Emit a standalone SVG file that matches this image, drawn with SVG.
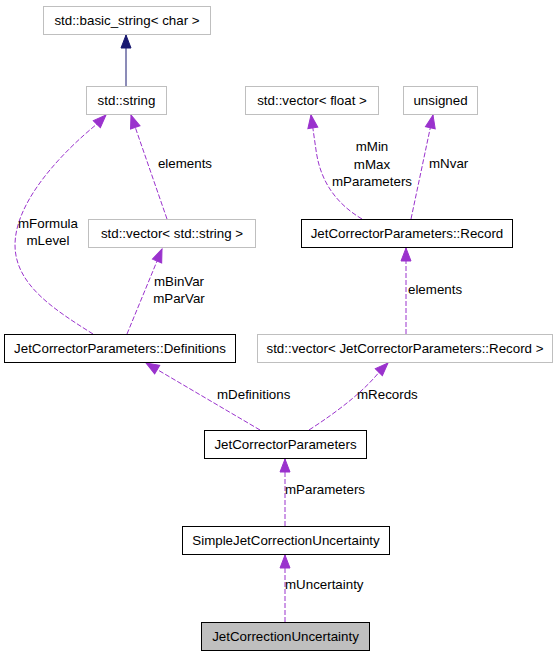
<svg xmlns="http://www.w3.org/2000/svg" width="560" height="656" viewBox="0 0 560 656">
<style>
text{font-family:"Liberation Sans",Arial,Helvetica,sans-serif;font-size:13.33px;fill:#000}
.n rect{fill:#fff;stroke:#000;stroke-width:1}
.n.ext rect{stroke:#bfbfbf}
.n.cur rect{fill:#bfbfbf}
.n text{text-anchor:middle}
.e{fill:none;stroke:#9a32cd;stroke-width:1;stroke-dasharray:5,2}
.inh{fill:none;stroke:#191970;stroke-width:1}
.lm{text-anchor:middle}
</style>
<defs>
<marker id="ap" markerUnits="userSpaceOnUse" markerWidth="16" markerHeight="14" refX="13" refY="5" orient="auto" overflow="visible">
<polygon points="0,0 13,5 0,10" fill="#9a32cd" stroke="#9a32cd" stroke-width="1"/>
</marker>
<marker id="an" markerUnits="userSpaceOnUse" markerWidth="16" markerHeight="14" refX="13" refY="5" orient="auto" overflow="visible">
<polygon points="0,0 13,5 0,10" fill="#191970" stroke="#191970" stroke-width="1"/>
</marker>
</defs>
<g id="connectors">
<path class="inh" d="M126,86 L126,35" marker-end="url(#an)"/>
<path class="e" d="M167,219 L131,115" marker-end="url(#ap)"/>
<path class="e" d="M93,334 C55,310 15,285 15,245 C15,200 65,150 97,124 L106,115" marker-end="url(#ap)"/>
<path class="e" d="M127,334 L162,249" marker-end="url(#ap)"/>
<path class="e" d="M362,219 C335,203 320,180 316,150 L311,115" marker-end="url(#ap)"/>
<path class="e" d="M411,219 L433,115" marker-end="url(#ap)"/>
<path class="e" d="M406,334 L406,248" marker-end="url(#ap)"/>
<path class="e" d="M260,430 L146,363" marker-end="url(#ap)"/>
<path class="e" d="M309,430 C340,410 365,390 380,371 L388,363" marker-end="url(#ap)"/>
<path class="e" d="M285,526 L285,459" marker-end="url(#ap)"/>
<path class="e" d="M285,622 L285,555" marker-end="url(#ap)"/>
<text x="185" y="168" class="lm">elements</text>
<text x="48" y="227.5" class="lm">mFormula</text>
<text x="48" y="244.5" class="lm">mLevel</text>
<text x="179" y="286" class="lm">mBinVar</text>
<text x="179" y="303" class="lm">mParVar</text>
<text x="372" y="151" class="lm">mMin</text>
<text x="372" y="168.5" class="lm">mMax</text>
<text x="372" y="186" class="lm">mParameters</text>
<text x="429" y="168">mNvar</text>
<text x="408" y="294">elements</text>
<text x="217" y="399">mDefinitions</text>
<text x="357" y="399">mRecords</text>
<text x="285" y="494">mParameters</text>
<text x="285" y="589">mUncertainty</text>
</g>
<g id="basic_string" class="n ext"><rect x="43.5" y="6.5" width="167" height="28"/><text x="127" y="25">std::basic_string&lt; char &gt;</text></g>
<g id="std_string" class="n ext"><rect x="86.5" y="86.5" width="80" height="28"/><text x="126.5" y="105">std::string</text></g>
<g id="vector_string" class="n ext"><rect x="88.5" y="219.5" width="167" height="28"/><text x="172" y="238">std::vector&lt; std::string &gt;</text></g>
<g id="vector_float" class="n ext"><rect x="245.5" y="86.5" width="133" height="28"/><text x="312" y="105">std::vector&lt; float &gt;</text></g>
<g id="unsigned" class="n ext"><rect x="403.5" y="86.5" width="74" height="28"/><text x="440.5" y="105">unsigned</text></g>
<g id="record" class="n"><rect x="301.5" y="219.5" width="211" height="28"/><text x="407" y="238">JetCorrectorParameters::Record</text></g>
<g id="vector_record" class="n ext"><rect x="257.5" y="334.5" width="295" height="28"/><text x="405" y="353">std::vector&lt; JetCorrectorParameters::Record &gt;</text></g>
<g id="definitions" class="n"><rect x="4.5" y="334.5" width="231" height="28"/><text x="120" y="353">JetCorrectorParameters::Definitions</text></g>
<g id="jcp" class="n"><rect x="204.5" y="430.5" width="162" height="28"/><text x="285.5" y="449">JetCorrectorParameters</text></g>
<g id="sjcu" class="n"><rect x="182.5" y="526.5" width="207" height="28"/><text x="286" y="545">SimpleJetCorrectionUncertainty</text></g>
<g id="jcu" class="n cur"><rect x="201.5" y="622.5" width="168" height="28"/><text x="285.5" y="641">JetCorrectionUncertainty</text></g>
</svg>
